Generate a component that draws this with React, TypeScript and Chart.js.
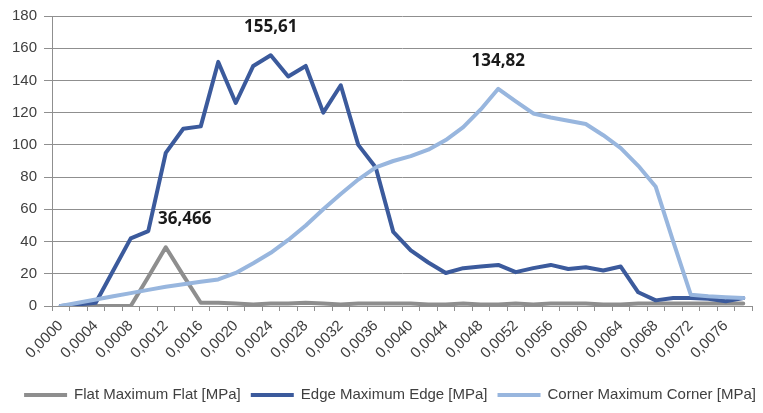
import React, { useEffect, useRef } from 'react';
import { Chart, registerables } from 'chart.js';

Chart.register(...registerables);

const CATEGORIES = [
  '0,0000', '0,0002', '0,0004', '0,0006', '0,0008', '0,0010', '0,0012', '0,0014', '0,0016', '0,0018',
  '0,0020', '0,0022', '0,0024', '0,0026', '0,0028', '0,0030', '0,0032', '0,0034', '0,0036', '0,0038',
  '0,0040', '0,0042', '0,0044', '0,0046', '0,0048', '0,0050', '0,0052', '0,0054', '0,0056', '0,0058',
  '0,0060', '0,0062', '0,0064', '0,0066', '0,0068', '0,0070', '0,0072', '0,0074', '0,0076', '0,0078',
];

const FLAT = [
  0, 0, 0, 0, 0, 18, 36.466, 19, 2, 2,
  1.5, 1, 1.5, 1.5, 2, 1.5, 1, 1.5, 1.5, 1.5,
  1.5, 1, 1, 1.5, 1, 1, 1.5, 1, 1.5, 1.5,
  1.5, 1, 1, 1.5, 1.5, 1.5, 1.5, 1.5, 1.5, 1.5,
];

const EDGE = [
  0, 1, 2, 22, 42, 46.5, 95, 110, 111.5, 151.5,
  126, 149, 155.61, 142.5, 149, 120, 137, 100, 86, 46,
  34.5, 27, 20.5, 23.5, 24.5, 25.5, 21, 23.5, 25.5, 23,
  24, 22, 24.5, 8.5, 3.5, 5, 5, 4.5, 3, 5,
];

const CORNER = [
  0, 2, 4, 6, 8, 10, 12, 13.5, 15, 16.5,
  20.5, 26.5, 33, 41, 50, 60, 69.5, 78.5, 86, 90,
  93, 97, 103, 111, 122, 134.82, 127, 119.5, 117, 115,
  113, 106, 98, 87, 74, 40, 7, 6, 5.5, 5,
];

const SERIES_NAMES = ['Flat Maximum Flat [MPa]', 'Edge Maximum Edge [MPa]', 'Corner Maximum Corner [MPa]'];
const SERIES_COLORS = ['#8e8e8e', '#3b5a9c', '#98b6de'];

// annotated maximum points: [series index, category index]
const PEAKS = [
  [0, 6],
  [1, 12],
  [2, 25],
];

const Y_MIN = 0;
const Y_MAX = 180;
const Y_STEP = 20;

const GRID = '#8f8f8f';
const TEXT = '#404040';
const FONT = '"Liberation Sans", Arial, sans-serif';

const peakLabelPlugin = {
  id: 'peakLabels',
  afterDatasetsDraw(chart: any) {
    const ctx = chart.ctx;
    ctx.save();
    ctx.font = 'bold 17px "Open Sans", "Liberation Sans", sans-serif';
    ctx.fillStyle = '#1a1a1a';
    ctx.textAlign = 'center';
    ctx.textBaseline = 'middle';
    const dx = [19, 0, 0];
    PEAKS.forEach(([ds, idx], k) => {
      const el = chart.getDatasetMeta(ds).data[idx];
      const v = chart.data.datasets[ds].data[idx];
      ctx.fillText(String(v).replace('.', ','), el.x + dx[k], el.y - 28);
    });
    ctx.restore();
  },
};

const bottomLegendPlugin = {
  id: 'bottomLegend',
  afterDraw(chart: any) {
    const ctx = chart.ctx;
    ctx.save();
    ctx.font = '15px ' + FONT;
    const sw = 43;
    const gap = 7;
    const pad = 10;
    const items = chart.data.datasets.map((d: any) => ({
      text: d.label,
      color: d.borderColor,
      w: ctx.measureText(d.label).width,
    }));
    const total = items.reduce((s: number, it: any) => s + sw + gap + it.w, 0) + pad * (items.length - 1);
    let x = 390 - total / 2;
    const y = 395;
    items.forEach((it: any) => {
      ctx.strokeStyle = it.color;
      ctx.lineWidth = 4;
      ctx.beginPath();
      ctx.moveTo(x, y);
      ctx.lineTo(x + sw, y);
      ctx.stroke();
      x += sw + gap;
      ctx.fillStyle = TEXT;
      ctx.textBaseline = 'middle';
      ctx.textAlign = 'left';
      ctx.fillText(it.text, x, y);
      x += it.w + pad;
    });
    ctx.restore();
  },
};

export default function App() {
  const ref = useRef<HTMLCanvasElement | null>(null);

  useEffect(() => {
    document.body.style.margin = '0';
    const canvas = ref.current;
    if (!canvas) return;
    const series = [FLAT, EDGE, CORNER];
    const chart = new Chart(canvas, {
      type: 'line',
      data: {
        labels: CATEGORIES,
        datasets: series.map((data, i) => ({
          label: SERIES_NAMES[i],
          data,
          borderColor: SERIES_COLORS[i],
          backgroundColor: SERIES_COLORS[i],
          borderWidth: 4,
          pointRadius: 0,
          tension: 0,
          fill: false,
          borderJoinStyle: 'round',
          borderCapStyle: 'round',
          order: 3 - i,
        })),
      },
      options: {
        animation: false,
        responsive: false,
        layout: { padding: { top: 15, right: 11, left: 0, bottom: 0 } },
        plugins: {
          legend: { display: false },
          tooltip: { enabled: false },
        },
        scales: {
          x: {
            type: 'category',
            offset: true,
            grid: {
              offset: true,
              drawOnChartArea: false,
              drawTicks: true,
              tickLength: 5,
              color: GRID,
            },
            border: { color: GRID },
            ticks: {
              autoSkip: false,
              minRotation: 45,
              maxRotation: 45,
              padding: 6,
              color: TEXT,
              font: { family: FONT, size: 15 },
              callback: (_v: any, i: number) => (i % 2 === 0 ? CATEGORIES[i] : ''),
            },
            afterFit: (s: any) => {
              s.height = 107;
            },
          },
          y: {
            min: Y_MIN,
            max: Y_MAX,
            ticks: {
              stepSize: Y_STEP,
              padding: 7,
              color: TEXT,
              font: { family: FONT, size: 15 },
            },
            grid: { color: GRID, tickLength: 8 },
            border: { color: GRID },
            afterFit: (s: any) => {
              s.width = 52;
            },
          },
        },
      },
      plugins: [peakLabelPlugin, bottomLegendPlugin],
    } as any);
    return () => chart.destroy();
  }, []);

  return (
    <div style={{ width: 763, height: 413 }}>
      <canvas ref={ref} width={763} height={413} />
    </div>
  );
}
